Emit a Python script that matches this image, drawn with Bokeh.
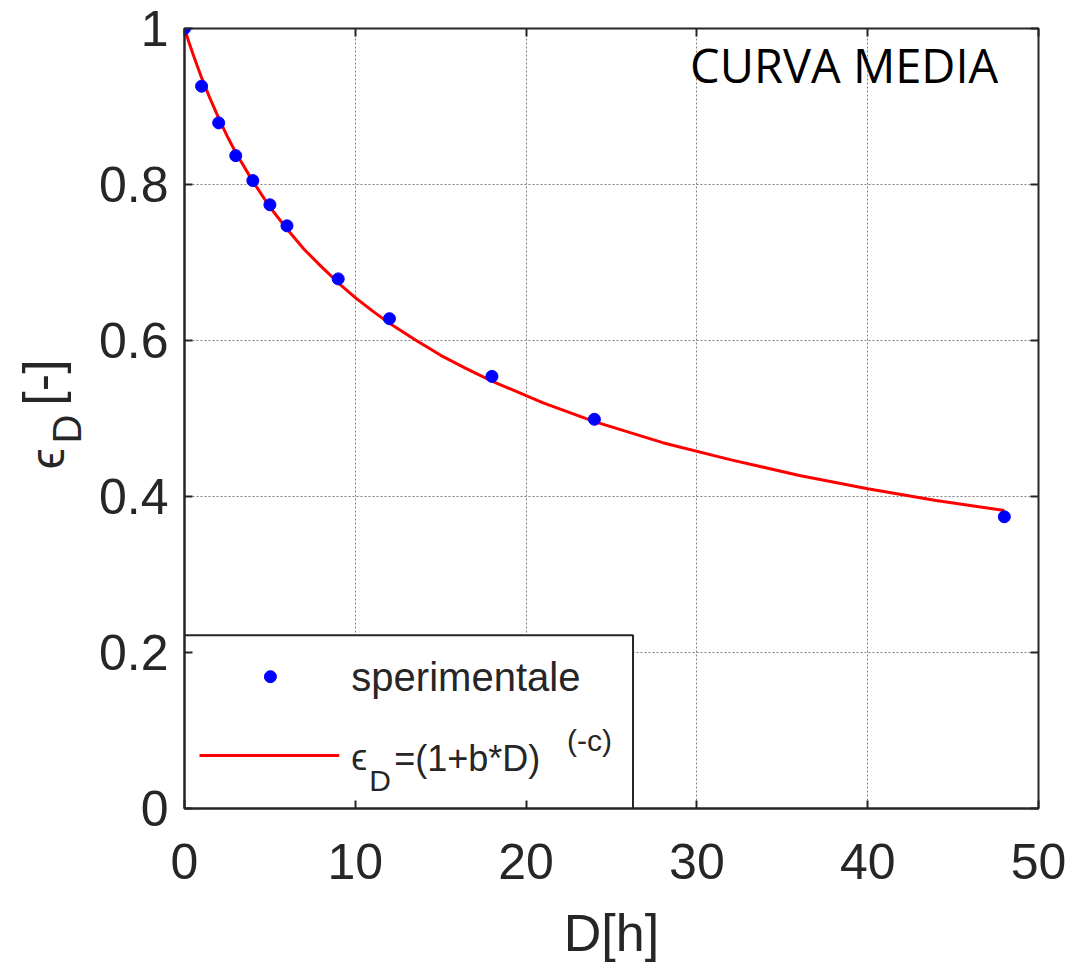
import math
from bokeh.plotting import figure
from bokeh.layouts import row
from bokeh.models import (Range1d, FixedTicker, PrintfTickFormatter, LinearAxis,
                          CustomJSTickFormatter, Label)
from bokeh.embed import file_html
from bokeh.resources import INLINE

# ---- data ----
D_exp = [0, 1, 2, 3, 4, 5, 6, 9, 12, 18, 24, 48]
eps_exp = [1.0, 0.926, 0.879, 0.837, 0.805, 0.774, 0.747, 0.679, 0.628, 0.554, 0.499, 0.374]

D_fit = [0, 0.25, 0.5, 1, 1.5, 2, 2.5, 3, 4, 5, 6, 7, 8, 9, 10, 11, 12, 13.5, 15, 16.5,
         18, 21, 24, 28, 32, 36, 40, 44, 48]
eps_fit = [1.0, 0.983, 0.967, 0.937, 0.910, 0.885, 0.862, 0.841, 0.804, 0.771, 0.743,
           0.717, 0.695, 0.674, 0.655, 0.638, 0.622, 0.601, 0.581, 0.564,
           0.548, 0.520, 0.496, 0.469, 0.447, 0.427, 0.410, 0.395, 0.382]

x_ticks = [0, 10, 20, 30, 40, 50]
y_ticks = [0, 0.2, 0.4, 0.6, 0.8, 1]

legend_exp = "sperimentale"
title_text = "CURVA MEDIA"
x_label = "D[h]"

FONT = "Liberation Sans"
DARK = "#262626"
W_LAB = 95          # width of the strip holding the y-axis title
H = 970

# ---------------- main plot ----------------
p = figure(width=1079 - W_LAB, height=H, output_backend="svg", toolbar_location=None,
           x_range=Range1d(0, 50), y_range=Range1d(0, 1),
           min_border_left=183 - W_LAB, min_border_right=41, min_border_top=28,
           min_border_bottom=162)
p.background_fill_color = "white"
p.border_fill_color = "white"
p.outline_line_color = DARK
p.outline_line_width = 2
p.outline_line_alpha = 1

for ax, ticks in ((p.xaxis, x_ticks), (p.yaxis, y_ticks)):
    ax.ticker = FixedTicker(ticks=ticks)
    ax.formatter = PrintfTickFormatter(format="%g")
    ax.major_tick_in = 8
    ax.major_tick_out = 0
    ax.major_tick_line_color = DARK
    ax.major_tick_line_width = 2
    ax.minor_tick_line_color = None
    ax.axis_line_color = DARK
    ax.axis_line_width = 2
    ax.major_label_text_font = FONT
    ax.major_label_text_font_size = "50px"
    ax.major_label_text_color = DARK

p.xaxis.major_label_standoff = 35
p.yaxis.major_label_standoff = 16
p.xaxis.axis_label = x_label
p.xaxis.axis_label_text_font = FONT
p.xaxis.axis_label_text_font_size = "52px"
p.xaxis.axis_label_text_font_style = "normal"
p.xaxis.axis_label_text_color = DARK
p.xaxis.axis_label_standoff = 22

p.xgrid.ticker = FixedTicker(ticks=x_ticks)
p.ygrid.ticker = FixedTicker(ticks=y_ticks)
for g in (p.xgrid, p.ygrid):
    g.grid_line_color = "#808080"
    g.grid_line_dash = "2 2"
    g.grid_line_width = 1
    g.grid_line_alpha = 1

# mirrored ticks on top and right (box on)
for loc, ticks in (("above", x_ticks), ("right", y_ticks)):
    a = LinearAxis(ticker=FixedTicker(ticks=ticks),
                   formatter=CustomJSTickFormatter(code="return ''"))
    a.major_tick_in = 8
    a.major_tick_out = 0
    a.major_tick_line_color = DARK
    a.major_tick_line_width = 2
    a.minor_tick_line_color = None
    a.axis_line_color = None
    a.major_label_standoff = 0
    p.add_layout(a, loc)

# ---- legend box (drawn first so the samples and texts sit on top) ----
LEG_RIGHT, LEG_TOP = 26.26, 0.222
p.quad(left=[0], right=[LEG_RIGHT], bottom=[0], top=[LEG_TOP],
       fill_color="white", fill_alpha=1, line_color=DARK, line_width=2)

# ---- data ----
ln = p.line(D_fit, eps_fit, line_color="#ff0000", line_width=3)
sc = p.scatter(D_exp, eps_exp, size=12, fill_color="#0000ff", line_color="#0000ff")

# ---- legend samples ----
p.scatter([5.03], [0.169], size=12, fill_color="#0000ff", line_color="#0000ff")
p.line([0.88, 9.06], [0.068, 0.068], line_color="#ff0000", line_width=3)

def lab(fig, x, y, text, size, angle=0.0, font=FONT, color=DARK):
    fig.add_layout(Label(x=x, y=y, text=text, text_font=font, text_font_size=size,
                         text_color=color, text_align="left", text_baseline="alphabetic",
                         angle=angle, angle_units="rad", level="overlay"))

# legend texts
lab(p, 9.77, 0.1685, legend_exp, "40px")
lab(p, 9.77, 0.0651, "\u03f5", "36px")
lab(p, 10.82, 0.0363, "D", "30px")
lab(p, 12.28, 0.0638, "=(1+b*D)", "36px")
lab(p, 22.4, 0.0876, "(-c)", "30px")

# annotation
lab(p, 29.6, 0.953, title_text, "47px", font="Open Sans", color="#000000")

# ---------------- strip with the y-axis title  eps_D[-] ----------------
lf = figure(width=W_LAB, height=H, output_backend="svg", toolbar_location=None,
            x_range=Range1d(0, W_LAB), y_range=Range1d(0, H), min_border=0,
            x_axis_location=None, y_axis_location=None)
lf.grid.visible = False
lf.outline_line_color = None
lf.background_fill_color = "white"
lf.border_fill_color = "white"

lab(lf, 47.0, H - 548, "\u03f5", "48px", angle=math.pi / 2)
lab(lf, 66.0, H - 516, "D", "40px", angle=math.pi / 2)
lab(lf, 41.0, H - 469, "[-]", "52px", angle=math.pi / 2)

layout = row(lf, p, spacing=0)
open("out.html", "w").write(file_html(layout, INLINE))
